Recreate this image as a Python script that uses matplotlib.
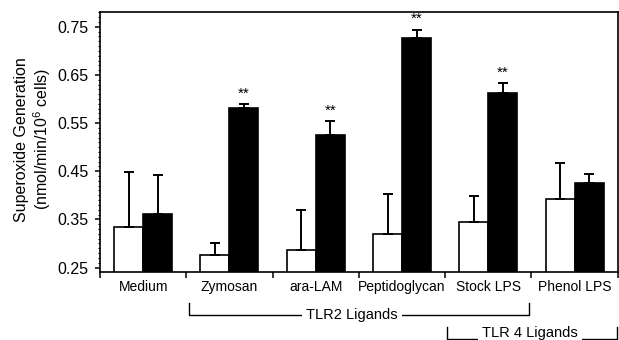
import numpy as np
import matplotlib.pyplot as plt
import matplotlib.transforms as mtransforms
from matplotlib.ticker import MultipleLocator, FixedLocator

plt.rcParams['font.family'] = ['Liberation Sans', 'DejaVu Sans']
plt.rcParams['mathtext.default'] = 'regular'

categories = ['Medium', 'Zymosan', 'ara-LAM', 'Peptidoglycan', 'Stock LPS', 'Phenol LPS']
white_vals = [0.334, 0.276, 0.286, 0.320, 0.345, 0.393]
white_err = [0.115, 0.024, 0.083, 0.083, 0.053, 0.074]
black_vals = [0.362, 0.582, 0.526, 0.727, 0.613, 0.425]
black_err = [0.080, 0.007, 0.028, 0.017, 0.020, 0.019]
signif = [False, True, True, True, True, False]

x = np.arange(len(categories))
w = 0.336

fig = plt.figure(figsize=(6.19, 3.40), dpi=100)
ax = fig.add_axes([0.1616, 0.2, 0.998 - 0.1616, 0.765])

ekw = dict(elinewidth=1.4, capthick=1.4, ecolor='black')
ax.bar(x - w / 2, white_vals, w, color='white', edgecolor='black', linewidth=1.2,
       yerr=[np.zeros(len(x)), white_err], capsize=3.3, error_kw=ekw, zorder=2)
ax.bar(x + w / 2, black_vals, w, color='black', edgecolor='black', linewidth=1.2,
       yerr=[np.zeros(len(x)), black_err], capsize=3.3, error_kw=ekw, zorder=2)

for xi, v, e, s in zip(x, black_vals, black_err, signif):
    if s:
        ax.text(xi + w / 2, v + e + 0.022, '**', ha='center', va='center', fontsize=11)

ax.set_xlim(-0.5, len(categories) - 0.5)
ax.set_ylim(0.2407, 0.781)
ax.yaxis.set_major_locator(FixedLocator([0.25, 0.35, 0.45, 0.55, 0.65, 0.75]))
ax.yaxis.set_minor_locator(MultipleLocator(0.01))
ax.set_yticklabels(['%.2f' % t for t in [0.25, 0.35, 0.45, 0.55, 0.65, 0.75]])
ax.tick_params(axis='y', which='major', direction='out', length=3.5, width=1.1,
               pad=5, labelsize=11.5)
ax.tick_params(axis='y', which='minor', direction='out', length=1.5, width=0.8)

ax.xaxis.set_major_locator(FixedLocator(np.arange(-0.5, len(categories), 1.0)))
ax.xaxis.set_minor_locator(FixedLocator(x))
ax.xaxis.set_major_formatter(plt.NullFormatter())
ax.xaxis.set_minor_formatter(plt.FixedFormatter(categories))
ax.tick_params(axis='x', which='major', direction='out', length=4, width=1.1)
ax.tick_params(axis='x', which='minor', length=0, pad=6, labelsize=10)

for sp in ax.spines.values():
    sp.set_linewidth(1.2)

ax.set_ylabel('Superoxide Generation\n(nmol/min/10$^6$ cells)', fontsize=11.5,
              linespacing=1.15)
ax.yaxis.set_label_coords(-0.09, 0.51)

# ligand group brackets below the axis
trans = mtransforms.blended_transform_factory(ax.transData, ax.transAxes)
def bracket(x0, x1, y, h, label, tx, ty):
    ax.plot([x0, x0, x1, x1], [y + h, y, y, y + h], color='black', lw=1.0,
            transform=trans, clip_on=False)
    ax.text(tx, ty, label, transform=trans, ha='center', va='center', fontsize=10.5,
            bbox=dict(facecolor='white', edgecolor='none', pad=3))

bracket(0.53, 4.47, -0.165, 0.046, 'TLR2 Ligands', 2.42, -0.165)
bracket(3.52, 5.49, -0.256, 0.043, 'TLR 4 Ligands', 4.48, -0.236)

fig.savefig('out.png', dpi=100)
